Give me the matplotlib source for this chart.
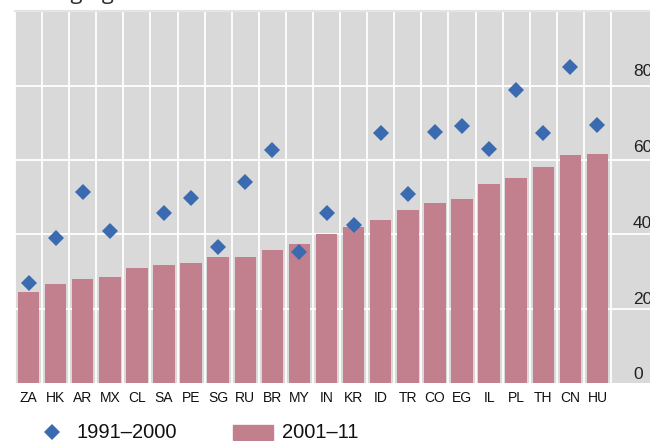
import matplotlib
matplotlib.use("Agg")
import matplotlib.pyplot as plt
from matplotlib.lines import Line2D
from matplotlib.patches import Rectangle
import numpy as np

# ---- data ----
countries = ["ZA", "HK", "AR", "MX", "CL", "SA", "PE", "SG", "RU", "BR", "MY",
             "IN", "KR", "ID", "TR", "CO", "EG", "IL", "PL", "TH", "CN", "HU"]
vals_2001_11 = [24.5, 26.7, 28.0, 28.4, 31.0, 31.8, 32.3, 34.0, 34.0, 35.8, 37.5,
                40.1, 41.9, 44.0, 46.5, 48.4, 49.6, 53.6, 55.2, 58.2, 61.3, 61.6]
vals_1991_2000 = [26.8, 38.9, 51.5, 40.9, np.nan, 45.7, 49.9, 36.7, 54.2, 62.7, 35.3,
                  45.7, 42.5, 67.4, 51.0, 67.7, 69.2, 63.0, 78.9, 67.4, 85.2, 69.6]
ytick_vals = [0, 20, 40, 60, 80]
ytick_labels = ["0", "20", "40", "60", "80"]
legend_labels = ["1991\u20132000", "2001\u201311"]
title = "Emerging markets"

BAR_COLOR = "#c27f8e"
DIA_COLOR = "#3a6bb0"
BG = "#d9d9d9"

W, H = 650, 441
fig = plt.figure(figsize=(W / 100, H / 100), dpi=100)

# axes geometry in pixels
left_px, right_px, top_px, bot_px = 15, 650, 12, 382.7
ax = fig.add_axes([left_px / W, (H - bot_px) / H,
                   (right_px - left_px) / W, (bot_px - top_px) / H])
ax.set_facecolor(BG)
for s in ax.spines.values():
    s.set_visible(False)

n = len(countries)
slot_px = (611 - left_px) / n
x = np.arange(n)
ax.set_xlim(-0.5, -0.5 + (right_px - left_px) / slot_px)
ax.set_ylim(0, 100)

# gridlines
ax.set_axisbelow(True)
for yv in ytick_vals[1:]:
    ax.axhline(yv, color="white", lw=1.3, zorder=0.5)
for b in np.arange(-0.5, n, 1.0):
    ax.axvline(b, color="white", lw=1.3, zorder=0.5)

ax.bar(x, vals_2001_11, width=0.79, color=BAR_COLOR, zorder=2)
ax.plot(x, vals_1991_2000, linestyle="none", marker="D", markersize=8.6,
        color=DIA_COLOR, markeredgewidth=0, zorder=3)

ax.set_xticks(x)
ax.set_xticklabels(countries, fontsize=10, family="Liberation Sans", color="#111111")
ax.tick_params(axis="x", length=0, pad=6)
ax.set_yticks([])

# right-hand value labels inside the grey area
xlab = -0.5 + (633 - left_px) / slot_px
for v, lab in zip(ytick_vals, ytick_labels):
    ax.text(xlab, 2.1 + v * 1.0225, lab, ha="left", va="center",
            fontsize=12.5, family="Liberation Sans", color="#222222", clip_on=False)

# top rule and (cropped) title
fig.add_artist(Line2D([left_px / W, 1], [1 - 10.5 / H] * 2, transform=fig.transFigure,
                      color="#e4e4e4", lw=1.6))
fig.text(16 / W, 1 + 0.5 / H, title, ha="left", va="baseline", fontsize=16,
         family="Open Sans", color="#333333")

# legend (manual)
ly = 1 - 432 / H
fig.add_artist(Line2D([52 / W], [ly], transform=fig.transFigure, marker="D",
                      markersize=8.6, color=DIA_COLOR, markeredgewidth=0, linestyle="none"))
fig.text(76 / W, ly, legend_labels[0], ha="left", va="center", fontsize=14.5,
         family="Liberation Sans", color="#111111")
fig.add_artist(Rectangle((233 / W, 1 - 440 / H), 40 / W, 15 / H,
                         transform=fig.transFigure, color=BAR_COLOR))
fig.text(282 / W, ly, legend_labels[1], ha="left", va="center", fontsize=14.5,
         family="Liberation Sans", color="#111111")

fig.savefig("out.png", dpi=100)
